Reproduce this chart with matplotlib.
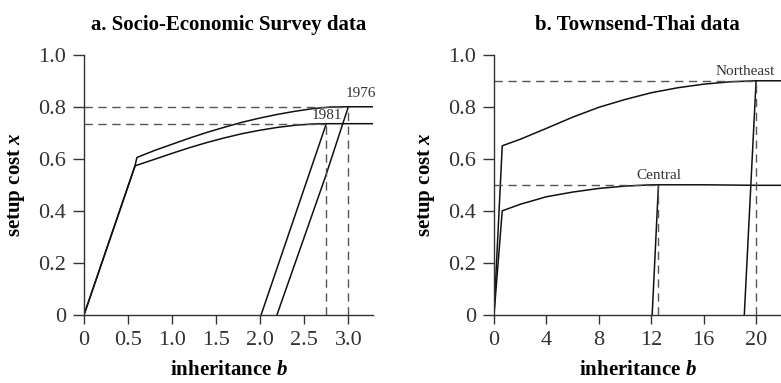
import matplotlib
matplotlib.use('Agg')
import matplotlib.pyplot as plt

plt.rcParams['font.family'] = ['Liberation Serif', 'DejaVu Serif']
plt.rcParams['mathtext.fontset'] = 'custom'
plt.rcParams['mathtext.it'] = 'Liberation Serif:italic:bold'
plt.rcParams['mathtext.rm'] = 'Liberation Serif:bold'

# a. Socio-Economic Survey data
a_1976_b = [0, 0.58, 0.60, 0.8, 1.0, 1.2, 1.4, 1.6, 1.8, 2.0, 2.2, 2.4, 2.6, 2.8, 3.0, 3.28]
a_1976_x = [0, 0.575, 0.605, 0.632, 0.656, 0.680, 0.702, 0.722, 0.741, 0.757, 0.771,
            0.783, 0.793, 0.799, 0.800, 0.800]
a_1981_b = [0, 0.58, 0.8, 1.0, 1.2, 1.4, 1.6, 1.8, 2.0, 2.2, 2.4, 2.6, 2.8, 3.0, 3.28]
a_1981_x = [0, 0.573, 0.598, 0.621, 0.643, 0.663, 0.681, 0.697, 0.710, 0.721, 0.729,
            0.734, 0.735, 0.735, 0.735]
a_steep_1976_b = [2.19, 2.74, 3.0]
a_steep_1976_x = [0, 0.531, 0.80]
a_steep_1981_b = [2.01, 2.75]
a_steep_1981_x = [0, 0.735]
a_cut_b = [3.0, 2.75]
a_cut_x = [0.80, 0.735]
a_years = ['1976', '1981']

# b. Townsend-Thai data
b_ne_b = [0, 0.63, 2, 4, 6, 8, 10, 12, 14, 16, 18, 20, 21.9]
b_ne_x = [0, 0.65, 0.675, 0.717, 0.760, 0.798, 0.828, 0.854, 0.873, 0.887, 0.896, 0.900, 0.900]
b_ce_b = [0, 0.63, 2, 4, 6, 8, 10, 12, 14, 16, 18, 20, 21.9]
b_ce_x = [0, 0.40, 0.425, 0.454, 0.472, 0.486, 0.495, 0.500, 0.500, 0.500, 0.499, 0.498, 0.498]
b_steep_ne_b = [19.1, 20.0]
b_steep_ne_x = [0, 0.90]
b_steep_ce_b = [12.07, 12.55]
b_steep_ce_x = [0, 0.50]
b_cut_b = [20.0, 12.55]
b_cut_x = [0.90, 0.50]
b_regions = ['Northeast', 'Central']

fig = plt.figure(figsize=(7.81, 3.83), dpi=100)
ax1 = fig.add_axes([0.1076, 0.178, 0.370, 0.679])
ax2 = fig.add_axes([0.6325, 0.178, 0.3675, 0.679])

dash = dict(color='#555555', lw=1.0, ls=(0, (6, 4)))
solid = dict(color='#111111', lw=1.1)


def style_axes(ax, xticks, xlabels, xmax):
    ax.set_xlim(0, xmax)
    ax.set_ylim(0, 1.0)
    ax.set_xticks(xticks)
    ax.set_xticklabels(xlabels)
    ax.set_yticks([0, 0.2, 0.4, 0.6, 0.8, 1.0])
    ax.set_yticklabels(['0', '0.2', '0.4', '0.6', '0.8', '1.0'])
    for s in ['top', 'right']:
        ax.spines[s].set_visible(False)
    for s in ['left', 'bottom']:
        ax.spines[s].set_color('#333333')
        ax.spines[s].set_linewidth(1.0)
    ax.tick_params(direction='out', width=1.0, color='#333333',
                   labelsize=16, colors='#333333')
    ax.tick_params(axis='y', length=8, pad=5)
    ax.tick_params(axis='x', length=6.5, pad=5)
    ax.set_xlabel('inheritance $b$', fontsize=15, fontweight='bold', labelpad=7)
    ax.set_ylabel('setup cost $x$', fontsize=15, fontweight='bold', labelpad=8)


# panel a
ax1.plot(a_1976_b, a_1976_x, **solid)
ax1.plot(a_1981_b, a_1981_x, **solid)
ax1.plot(a_steep_1976_b, a_steep_1976_x, **solid)
ax1.plot(a_steep_1981_b, a_steep_1981_x, **solid)
for b, x in zip(a_cut_b, a_cut_x):
    ax1.plot([0, b], [x, x], **dash)
    ax1.plot([b, b], [0, x], **dash)
ax1.text(3.14, 0.825, a_years[0], fontsize=11, color='#333333', ha='center', va='bottom')
ax1.text(2.76, 0.742, a_years[1], fontsize=11, color='#333333', ha='center', va='bottom')
style_axes(ax1, [0, 0.5, 1.0, 1.5, 2.0, 2.5, 3.0],
           ['0', '0.5', '1.0', '1.5', '2.0', '2.5', '3.0'], 3.28)
ax1.set_title('a. Socio-Economic Survey data', fontsize=15, fontweight='bold', pad=18)

# panel b
ax2.plot(b_ne_b, b_ne_x, **solid)
ax2.plot(b_ce_b, b_ce_x, **solid)
ax2.plot(b_steep_ne_b, b_steep_ne_x, **solid)
ax2.plot(b_steep_ce_b, b_steep_ce_x, **solid)
for b, x in zip(b_cut_b, b_cut_x):
    ax2.plot([0, b], [x, x], **dash)
    ax2.plot([b, b], [0, x], **dash)
ax2.text(19.2, 0.912, b_regions[0], fontsize=11, color='#333333', ha='center', va='bottom')
ax2.text(12.6, 0.512, b_regions[1], fontsize=11, color='#333333', ha='center', va='bottom')
style_axes(ax2, [0, 4, 8, 12, 16, 20], ['0', '4', '8', '12', '16', '20'], 21.9)
ax2.set_title('b. Townsend-Thai data', fontsize=15, fontweight='bold', pad=18)

fig.savefig('out.png', dpi=100)
